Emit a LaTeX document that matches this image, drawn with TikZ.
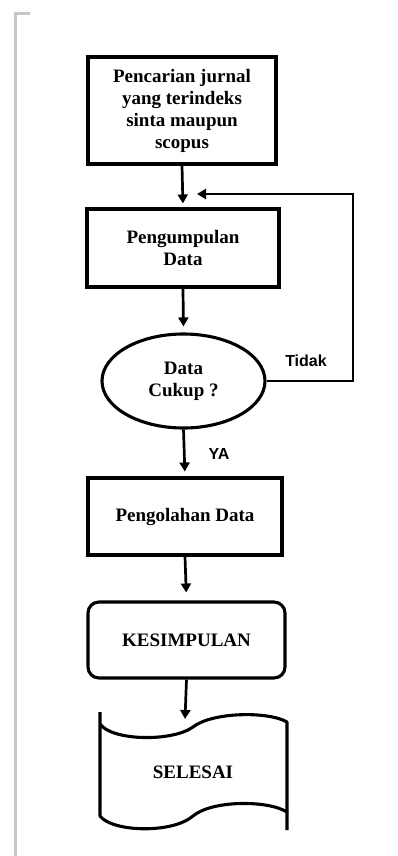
\documentclass[tikz,border=0pt]{standalone}
\usepackage{fontspec}
\setmainfont{Liberation Serif}
\newfontfamily\labelfont{Liberation Sans}
\usetikzlibrary{shapes.geometric,arrows.meta}
\begin{document}
\begin{tikzpicture}[x=1pt,y=-1pt,
  box/.style={draw,line width=3.1pt,align=center,inner sep=0pt,
    font=\fontsize{19}{22}\selectfont\bfseries},
  arr/.style={line width=2.7pt,-{Triangle[length=9pt,width=10pt]}},
  lbl/.style={font=\labelfont\fontsize{16}{18}\selectfont\bfseries,inner sep=0pt}]
\useasboundingbox (0,0) rectangle (398,856);
\fill[white] (0,0) rectangle (398,856);
% gray page margin
\draw[line width=3pt,color=black!22] (30,13.5) -- (15,13.5) -- (15,856);
% nodes
\node[box,minimum width=188,minimum height=107] (b1) at (182,110.5)
  {Pencarian jurnal\\yang terindeks\\sinta maupun\\scopus};
\node[box,minimum width=192,minimum height=78] (b2) at (183,248)
  {Pengumpulan\\Data};
\node[box,ellipse,minimum width=163,minimum height=94] (d1) at (183.5,381)
  {Data\\Cukup ?};
\node[box,minimum width=194,minimum height=77] (b3) at (185,516.5)
  {Pengolahan Data};
\node[box,rounded corners=11pt,minimum width=197,minimum height=76] (b4) at (186.5,640)
  {KESIMPULAN};
\node[font=\fontsize{19}{22}\selectfont\bfseries,inner sep=0pt] (end) at (193,772) {SELESAI};
% tape shape
\draw[line width=3.1pt,line join=round]
  (100,712) -- (100,816)
  .. controls (112,832) and (172,834) .. (193,816)
  .. controls (212,800) and (268,800) .. (287,812)
  -- (287,830);
\draw[line width=3.1pt,line join=round]
  (100,724) .. controls (112,741) and (172,742) .. (193,727)
  .. controls (212,712) and (268,711) .. (287,722) -- (287,812);
\coordinate (endtop) at (185,719);
\coordinate (fb) at (197,194);
\coordinate (fbr) at (353,194);
% connectors
\draw[arr,shorten >=4pt] (b1.south) -- (b2.north);
\draw[arr,shorten >=6pt] (b2.south) -- (d1.north);
\draw[arr,shorten >=5pt] (d1.south) -- (b3.north);
\draw[arr,shorten >=8pt] (b3.south) -- (b4.north);
\draw[arr] (b4.south) -- (endtop);
\draw[arr] (d1.east) -| (fbr) -- (fb);
% labels
\node[lbl] (tidak) at (306,361) {Tidak};
\node[lbl] (ya) at (219,454) {YA};
\end{tikzpicture}
\end{document}
